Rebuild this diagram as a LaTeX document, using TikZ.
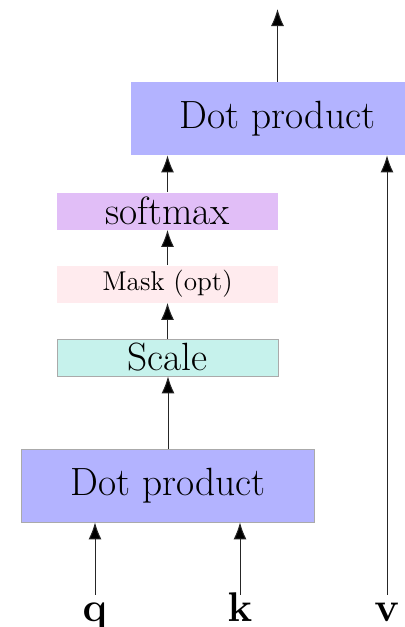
\documentclass[tikz,border=0pt]{standalone}
\usetikzlibrary{arrows.meta}
\definecolor{dotblue}{RGB}{179,179,255}
\definecolor{smviolet}{RGB}{225,190,247}
\definecolor{maskpink}{RGB}{255,235,238}
\definecolor{scaleteal}{RGB}{198,242,236}
\definecolor{edgegray}{RGB}{170,170,170}
\begin{document}
\begin{tikzpicture}[x=0.5pt,y=-0.5pt,
  bigtext/.style={font=\fontsize{19.7}{22}\selectfont},
  dotbox/.style={rectangle,fill=dotblue,inner sep=0pt,minimum width=146.5pt,minimum height=36.5pt,bigtext},
  layer/.style={rectangle,inner sep=0pt,minimum width=110.5pt,minimum height=18.5pt},
  framed/.style={draw=edgegray,line width=0.4pt},
  vecname/.style={inner sep=2pt,text height=11pt,text depth=4pt,font=\fontsize{19.7}{22}\selectfont},
  flow/.style={draw=black!85,line width=0.5pt,-{Latex[length=8.5pt,width=6.5pt,fill=black]}}]
  \useasboundingbox (0,0) rectangle (405,627);
  \begin{scope}
    \clip (0,0) rectangle (405,627);
    % attention blocks
    \node[dotbox] (out) at (277.5,118.5) {Dot product};
    \node[dotbox,framed] (qk) at (168,485.5) {Dot product};
    \node[layer,fill=smviolet,bigtext] (sm) at (167.5,211) {softmax};
    \node[layer,fill=maskpink,font=\fontsize{13.6}{16}\selectfont] (mask) at (167.5,284) {Mask (opt)};
    \node[layer,fill=scaleteal,framed,bigtext] (scale) at (167.5,357.5) {Scale};
    % inputs
    \node[vecname,anchor=base] (q) at (95,621) {$\mathbf{q}$};
    \node[vecname,anchor=base] (k) at (240,621) {$\mathbf{k}$};
    \node[vecname,anchor=base] (v) at (387,621) {$\mathbf{v}$};
    \coordinate (res) at (277.5,9);
    % connections
    \draw[flow] (q.north) -- (q.north |- qk.south);
    \draw[flow] (k.north) -- (k.north |- qk.south);
    \draw[flow] (v.north) -- (v.north |- out.south);
    \draw[flow] (qk.north) -- (qk.north |- scale.south);
    \draw[flow] (scale.north) -- (mask.south);
    \draw[flow] (mask.north) -- (sm.south);
    \draw[flow] (sm.north) -- (sm.north |- out.south);
    \draw[flow] (out.north) -- (res);
  \end{scope}
\end{tikzpicture}
\end{document}
